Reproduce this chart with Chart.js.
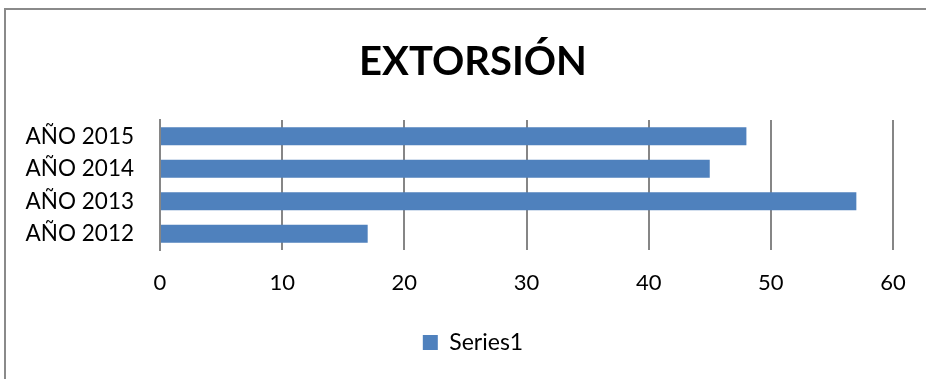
<!DOCTYPE html>
<html>
<head>
<meta charset="utf-8">
<script src="https://cdn.jsdelivr.net/npm/chart.js@4/dist/chart.umd.min.js"></script>
<style>
  html, body { margin: 0; padding: 0; background: #fff; overflow: hidden; }
  #wrap { position: relative; width: 926px; height: 379px; overflow: hidden; }
  #frame {
    position: absolute; left: 4px; top: 8px; width: 1000px; height: 1000px;
    border-top: 2px solid #8a8a8a; border-left: 2px solid #8a8a8a;
    pointer-events: none;
  }
  canvas { position: absolute; left: 0; top: 0; }
</style>
</head>
<body>
<div id="wrap">
  <canvas id="chart" width="946" height="379"></canvas>
  <div id="frame"></div>
</div>
<script>
// chart data
const years = ["AÑO 2012", "AÑO 2013", "AÑO 2014", "AÑO 2015"];
const series1 = [17, 57, 45, 48];
const xTicks = [0, 10, 20, 30, 40, 50, 60];

const gridGray = "#868686";
const barBlue = "#4F81BD";
const fontFamily = "Lato, 'Open Sans', sans-serif";

Chart.defaults.font.family = fontFamily;
Chart.defaults.color = "#000";

const ctx = document.getElementById("chart");

new Chart(ctx, {
    type: "bar",
    data: {
        labels: years,
        datasets: [{
            label: "Series1",
            data: series1,
            backgroundColor: barBlue,
            borderWidth: 0,
            barPercentage: 0.55,
            categoryPercentage: 1
        }]
    },
    options: {
        indexAxis: "y",
        responsive: false,
        animation: false,
        layout: {
            padding: { left: 0, right: 0, top: 0, bottom: 15 }
        },
        plugins: {
            title: {
                display: true,
                text: "EXTORSIÓN",
                font: { size: 40, weight: "bold" },
                color: "#000",
                padding: { top: 38, bottom: 34 }
            },
            legend: {
                display: true,
                position: "bottom",
                labels: {
                    boxWidth: 15,
                    boxHeight: 15,
                    padding: 26,
                    font: { size: 23 },
                    color: "#000"
                }
            },
            tooltip: { enabled: false }
        },
        scales: {
            x: {
                type: "linear",
                min: xTicks[0],
                max: xTicks[xTicks.length - 1],
                afterBuildTicks: (scale) => {
                    scale.ticks = xTicks.map(v => ({ value: v }));
                },
                afterFit: (scale) => { scale.height = 55; },
                grid: {
                    display: true,
                    color: gridGray,
                    lineWidth: 2,
                    drawTicks: false
                },
                border: { display: false },
                ticks: {
                    padding: 20,
                    font: { size: 22 },
                    color: "#000"
                }
            },
            y: {
                reverse: true,
                afterFit: (scale) => { scale.width = 160; },
                grid: { display: false, drawTicks: false },
                border: { display: true, color: gridGray, width: 2 },
                ticks: {
                    padding: 26,
                    font: { size: 22.5 },
                    color: "#000"
                }
            },
            // empty right-hand axis, only keeps the plot clear of the right edge
            yRight: {
                type: "category",
                labels: years,
                position: "right",
                afterFit: (scale) => { scale.width = 53; },
                grid: { display: false, drawTicks: false },
                border: { display: false },
                ticks: { display: false }
            }
        }
    }
});
</script>
</body>
</html>
